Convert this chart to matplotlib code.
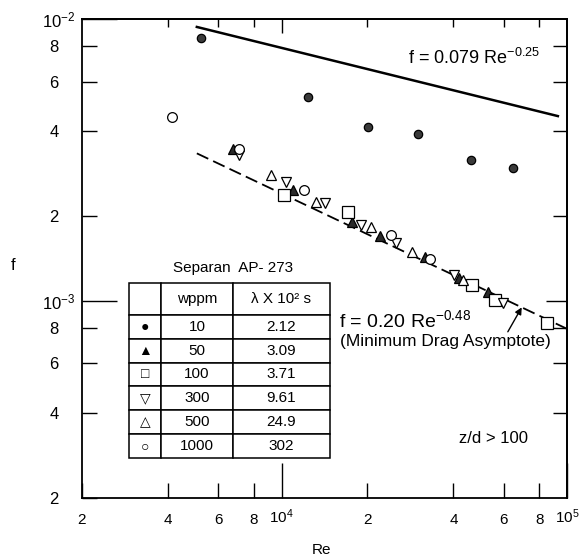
import matplotlib
matplotlib.use('Agg')
import numpy as np
import matplotlib.pyplot as plt

plt.rcParams['font.family'] = ['Liberation Sans', 'DejaVu Sans']
plt.rcParams['mathtext.fontset'] = 'custom'
plt.rcParams['mathtext.rm'] = 'Liberation Sans'
plt.rcParams['mathtext.default'] = 'regular'

# Separan AP-273, values (Re, f) per concentration
re_10 = [5220, 12400, 20100, 30100, 46100, 64700]
f_10 = [8.55e-3, 5.28e-3, 4.13e-3, 3.90e-3, 3.15e-3, 2.97e-3]

re_50 = [6760, 10970, 17650, 22120, 31800, 41800, 52840]
f_50 = [3.47e-3, 2.48e-3, 1.90e-3, 1.70e-3, 1.43e-3, 1.21e-3, 1.077e-3]

re_100 = [10200, 17090, 46460, 55940, 85060]
f_100 = [2.38e-3, 2.06e-3, 1.14e-3, 1.008e-3, 0.835e-3]

re_300 = [7090, 10360, 14200, 18980, 25180, 40180, 59660]
f_300 = [3.28e-3, 2.65e-3, 2.23e-3, 1.86e-3, 1.61e-3, 1.24e-3, 0.984e-3]

re_500 = [9180, 13200, 20580, 28640, 43200]
f_500 = [2.79e-3, 2.25e-3, 1.83e-3, 1.49e-3, 1.19e-3]

re_1000 = [4130, 7090, 11980, 24170, 33100]
f_1000 = [4.48e-3, 3.47e-3, 2.48e-3, 1.72e-3, 1.41e-3]

# correlation lines (range of Re drawn)
re_blasius = [5050, 92900]
re_mda = [5050, 100000]

# table contents
wppm = ['10', '50', '100', '300', '500', '1000']
lam = ['2.12', '3.09', '3.71', '9.61', '24.9', '302']
symbols = ['\u25CF', '\u25B2', '\u25A1', '\u25BD', '\u25B3', '\u25CB']

fig = plt.figure(figsize=(5.85, 5.59), dpi=100)
ax = fig.add_axes([82/585, 1 - 498/559, 485/585, 479/559])
ax.set_xscale('log')
ax.set_yscale('log')
ax.set_xlim(2e3, 1e5)
ax.set_ylim(2e-4, 1e-2)

# lines
rb = np.geomspace(re_blasius[0], re_blasius[1], 50)
ax.plot(rb, 0.079 * rb**-0.25, color='black', lw=1.8)
rm = np.geomspace(re_mda[0], re_mda[1], 50)
ax.plot(rm, 0.20 * rm**-0.48, color='black', lw=1.3, linestyle=(0, (7, 3)))

# data points
mk = dict(linestyle='none', markeredgecolor='black', markeredgewidth=0.9)
ax.plot(re_10, f_10, marker='o', ms=6, markerfacecolor='#3a3a3a', **mk)
ax.plot(re_50, f_50, marker='^', ms=6.5, markerfacecolor='#2a2a2a', **mk)
ax.plot(re_100, f_100, marker='s', ms=8, markerfacecolor='white', **mk)
ax.plot(re_300, f_300, marker='v', ms=7.5, markerfacecolor='white', **mk)
ax.plot(re_500, f_500, marker='^', ms=7.5, markerfacecolor='white', **mk)
ax.plot(re_1000, f_1000, marker='o', ms=7, markerfacecolor='white', **mk)

# ticks
ax.set_xticks([1e4, 1e5], labels=['$10^4$', '$10^5$'])
ax.set_xticks([2e3, 4e3, 6e3, 8e3, 2e4, 4e4, 6e4, 8e4],
              labels=['2', '4', '6', '8', '2', '4', '6', '8'], minor=True)
ax.set_yticks([1e-3, 1e-2], labels=['$10^{-3}$', '$10^{-2}$'])
ax.set_yticks([2e-4, 4e-4, 6e-4, 8e-4, 2e-3, 4e-3, 6e-3, 8e-3],
              labels=['2', '4', '6', '8', '2', '4', '6', '8'], minor=True)
ax.tick_params(which='both', direction='in', width=1.0)
ax.tick_params(which='major', length=25)
ax.tick_params(which='minor', length=11)
ax.tick_params(axis='x', which='minor', labelsize=11, pad=11)
ax.tick_params(axis='x', which='major', labelsize=11, pad=7)
ax.tick_params(axis='y', which='major', labelsize=12, pad=5)
ax.tick_params(axis='y', which='minor', labelsize=12, pad=17)

sx = ax.secondary_xaxis('top')
sx.set_xticks([1e4], labels=[''])
sx.set_xticks([4e3, 6e3, 8e3, 2e4, 4e4, 6e4, 8e4], labels=[''] * 7, minor=True)
sx.tick_params(which='both', direction='in', width=1.0)
sx.tick_params(which='major', length=10)
sx.tick_params(which='minor', length=6)

sy = ax.secondary_yaxis('right')
sy.set_yticks([1e-3], labels=[''])
sy.set_yticks([4e-4, 6e-4, 8e-4, 2e-3, 4e-3, 6e-3, 8e-3], labels=[''] * 7, minor=True)
sy.tick_params(which='both', direction='in', width=1.0)
sy.tick_params(which='major', length=15)
sy.tick_params(which='minor', length=10)

for s in ax.spines.values():
    s.set_linewidth(1.3)
sx.spines['top'].set_linewidth(1.3)
sy.spines['right'].set_linewidth(1.3)

ax.set_xlabel('Re', fontsize=11, va='center')
ax.xaxis.set_label_coords(0.493, -0.109)
ax.set_ylabel('f', fontsize=12, rotation=0, va='center', ha='center')
ax.yaxis.set_label_coords(-0.142, 0.486)

# annotations
ax.text(0.672, 0.919, 'f = 0.079 Re$^{-0.25}$', transform=ax.transAxes,
        fontsize=13, ha='left', va='center')
ax.text(0.530, 0.372, 'f = 0.20 Re$^{-0.48}$', transform=ax.transAxes,
        fontsize=14, ha='left', va='center')
ax.text(0.532, 0.326, '(Minimum Drag Asymptote)', transform=ax.transAxes,
        fontsize=12.5, ha='left', va='center')
tip_re = 69400
ax.annotate('', xy=(tip_re, 0.20 * tip_re**-0.48), xycoords='data',
            xytext=(0.878, 0.347), textcoords='axes fraction',
            arrowprops=dict(arrowstyle='-|>', color='black', lw=1.0,
                            mutation_scale=10, shrinkA=0, shrinkB=0))
ax.text(0.777, 0.125, 'z/d > 100', transform=ax.transAxes,
        fontsize=12, ha='left', va='center')

# table
ax.text(0.311, 0.480, 'Separan  AP- 273', transform=ax.transAxes,
        fontsize=11, ha='center', va='center')
rows = [[s, w, l] for s, w, l in zip(symbols, wppm, lam)]
tab = ax.table(cellText=rows, colLabels=['', 'wppm', '\u03bb X 10\u00b2 s'],
               colWidths=[32, 72, 97], cellLoc='center',
               bbox=[0.097, 0.0835, 0.414, 0.3655])
tab.auto_set_font_size(False)
for (r, c), cell in tab.get_celld().items():
    cell.set_height(32 if r == 0 else 24)
    cell.set_linewidth(1.1)
    cell.set_edgecolor('black')
    cell.get_text().set_fontsize(10 if (c == 0 and r > 0) else 11)

fig.savefig('out.png', dpi=100)
